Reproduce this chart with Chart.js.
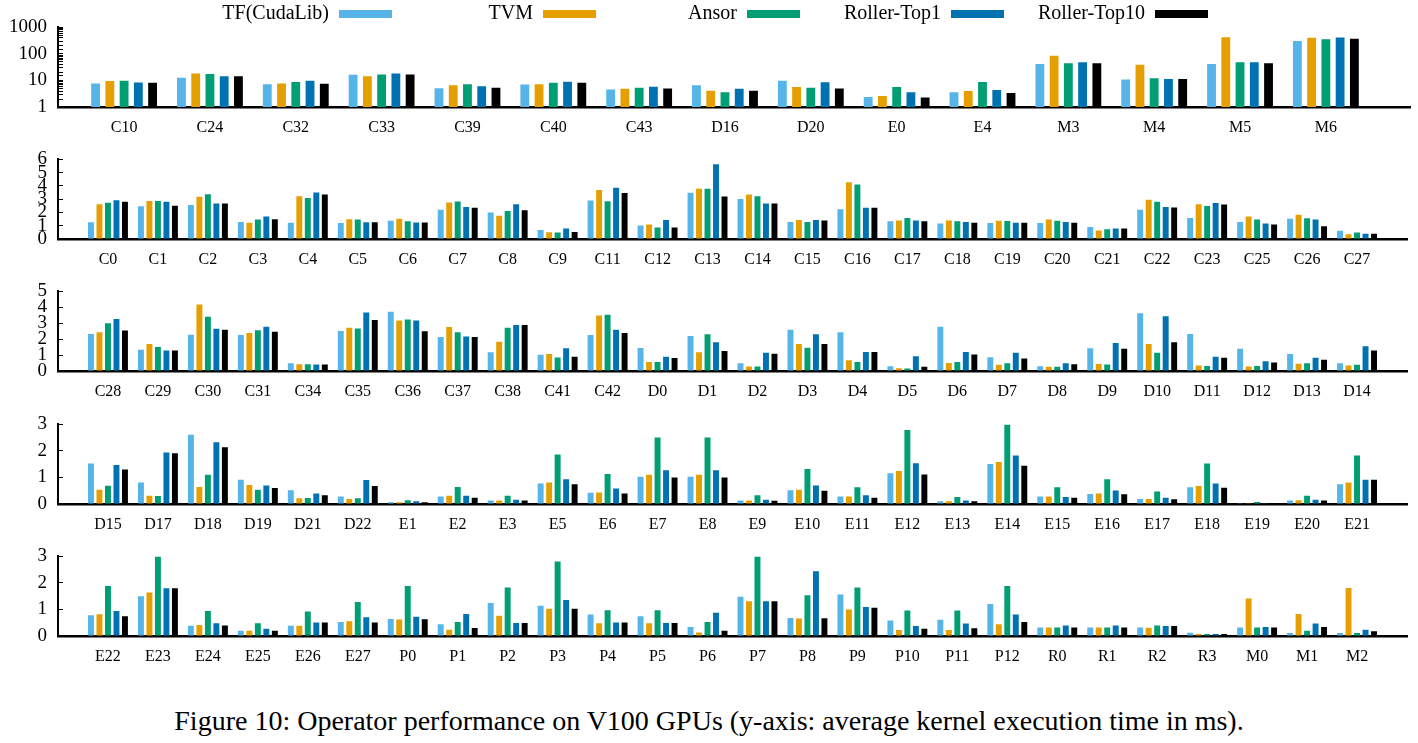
<!DOCTYPE html>
<html>
<head>
<meta charset="utf-8">
<title>Operator performance on V100 GPUs</title>
<script src="https://cdn.jsdelivr.net/npm/chart.js@4.4.1/dist/chart.umd.min.js"></script>
<style>
  body { margin: 0; background: #fff; width: 1418px; height: 743px; position: relative; overflow: hidden; }
  canvas { position: absolute; left: 0; }
  #caption { position: absolute; left: 0; top: 705px; width: 1418px; text-align: center; font: 28px "Liberation Serif", serif; color: #000; }
</style>
</head>
<body>
<canvas id="panel1" width="1418" height="139" style="top:0px"></canvas>
<canvas id="panel2" width="1418" height="139" style="top:132px"></canvas>
<canvas id="panel3" width="1418" height="139" style="top:264px"></canvas>
<canvas id="panel4" width="1418" height="139" style="top:397px"></canvas>
<canvas id="panel5" width="1418" height="139" style="top:529px"></canvas>
<div id="caption">Figure 10: Operator performance on V100 GPUs (y-axis: average kernel execution time in ms).</div>

<script>
// Series names and colours
const seriesNames = ['TF(CudaLib)', 'TVM', 'Ansor', 'Roller-Top1', 'Roller-Top10'];
const seriesColors = ['#56B4E9', '#E69F00', '#009E73', '#0072B2', '#000000'];

// Row 1 (log scale)
const cats1 = ['C10', 'C24', 'C32', 'C33', 'C39', 'C40', 'C43', 'D16', 'D20', 'E0', 'E4', 'M3', 'M4', 'M5', 'M6'];
const tf1 = [7.7, 12.6, 7.2, 16.3, 5.1, 7.0, 4.6, 6.6, 9.8, 2.4, 3.6, 42, 10.8, 42, 310];
const tvm1 = [9.5, 18.5, 7.7, 14.3, 6.6, 7.2, 4.9, 4.1, 5.7, 2.6, 4.0, 86, 39, 430, 407];
const ansor1 = [9.8, 17.5, 8.8, 16.7, 7.2, 8.2, 5.3, 3.6, 5.3, 5.7, 8.8, 45, 12, 49, 360];
const top1s1 = [8.4, 14.3, 9.8, 18.5, 6.0, 9.0, 5.8, 4.9, 8.6, 3.6, 4.4, 49, 11.4, 49, 420];
const top10s1 = [8.2, 14.3, 7.5, 16.7, 5.3, 8.2, 5.0, 4.1, 5.0, 2.3, 3.4, 45, 11.4, 45, 370];
const logTicks = [1, 10, 100, 1000];

// Row 2
const cats2 = ['C0', 'C1', 'C2', 'C3', 'C4', 'C5', 'C6', 'C7', 'C8', 'C9', 'C11', 'C12', 'C13',
  'C14', 'C15', 'C16', 'C17', 'C18', 'C19', 'C20', 'C21', 'C22', 'C23', 'C25', 'C26', 'C27'];
const tf2 = [1.27, 2.47, 2.56, 1.29, 1.22, 1.2, 1.38, 2.2, 2.0, 0.67, 2.91, 1.02, 3.49,
  3.02, 1.29, 2.24, 1.33, 1.16, 1.2, 1.2, 0.91, 2.2, 1.58, 1.29, 1.53, 0.62];
const tvm2 = [2.62, 2.87, 3.18, 1.22, 3.22, 1.49, 1.53, 2.76, 1.76, 0.51, 3.69, 1.09, 3.78,
  3.36, 1.44, 4.27, 1.4, 1.4, 1.38, 1.47, 0.64, 2.96, 2.62, 1.69, 1.82, 0.36];
const ansor2 = [2.73, 2.87, 3.38, 1.47, 3.09, 1.47, 1.33, 2.82, 2.11, 0.49, 2.84, 0.87, 3.78,
  3.22, 1.29, 4.11, 1.58, 1.33, 1.36, 1.38, 0.73, 2.8, 2.49, 1.47, 1.56, 0.49];
const top1s2 = [2.93, 2.8, 2.67, 1.69, 3.51, 1.27, 1.24, 2.42, 2.62, 0.8, 3.87, 1.44, 5.64,
  2.67, 1.44, 2.36, 1.4, 1.29, 1.22, 1.29, 0.8, 2.42, 2.71, 1.16, 1.47, 0.4];
const top10s2 = [2.8, 2.51, 2.67, 1.49, 3.36, 1.27, 1.24, 2.36, 2.16, 0.53, 3.47, 0.87, 3.2,
  2.67, 1.4, 2.36, 1.33, 1.22, 1.22, 1.22, 0.8, 2.38, 2.6, 1.09, 0.96, 0.4];

// Row 3
const cats3 = ['C28', 'C29', 'C30', 'C31', 'C34', 'C35', 'C36', 'C37', 'C38', 'C41', 'C42', 'D0', 'D1',
  'D2', 'D3', 'D4', 'D5', 'D6', 'D7', 'D8', 'D9', 'D10', 'D11', 'D12', 'D13', 'D14'];
const tf3 = [2.33, 1.33, 2.28, 2.26, 0.48, 2.52, 3.72, 2.13, 1.17, 1.02, 2.26, 1.44, 2.2,
  0.48, 2.59, 2.43, 0.3, 2.78, 0.87, 0.3, 1.43, 3.63, 2.33, 1.39, 1.06, 0.48];
const tvm3 = [2.44, 1.69, 4.17, 2.39, 0.43, 2.72, 3.17, 2.76, 1.83, 1.07, 3.48, 0.57, 1.17,
  0.28, 1.7, 0.67, 0.17, 0.5, 0.39, 0.26, 0.44, 1.7, 0.35, 0.28, 0.46, 0.35];
const ansor3 = [3.0, 1.5, 3.41, 2.56, 0.43, 2.67, 3.24, 2.44, 2.72, 0.85, 3.54, 0.57, 2.31,
  0.28, 1.46, 0.56, 0.15, 0.56, 0.48, 0.26, 0.41, 1.15, 0.31, 0.31, 0.48, 0.39];
const top1s3 = [3.26, 1.28, 2.65, 2.78, 0.41, 3.67, 3.17, 2.17, 2.89, 1.43, 2.59, 0.89, 1.8,
  1.15, 2.31, 1.2, 0.93, 1.19, 1.15, 0.48, 1.76, 3.44, 0.89, 0.61, 0.83, 1.56];
const top10s3 = [2.54, 1.28, 2.59, 2.46, 0.41, 3.2, 2.5, 2.13, 2.89, 0.89, 2.39, 0.81, 1.26,
  1.09, 1.7, 1.2, 0.26, 1.04, 0.78, 0.43, 1.39, 1.81, 0.83, 0.54, 0.7, 1.28];

// Row 4
const cats4 = ['D15', 'D17', 'D18', 'D19', 'D21', 'D22', 'E1', 'E2', 'E3', 'E5', 'E6', 'E7', 'E8',
  'E9', 'E10', 'E11', 'E12', 'E13', 'E14', 'E15', 'E16', 'E17', 'E18', 'E19', 'E20', 'E21'];
const tf4 = [1.53, 0.81, 2.61, 0.91, 0.52, 0.28, 0.07, 0.28, 0.13, 0.77, 0.42, 1.03, 1.03,
  0.13, 0.52, 0.28, 1.16, 0.1, 1.51, 0.28, 0.38, 0.19, 0.63, 0.03, 0.13, 0.74];
const tvm4 = [0.54, 0.31, 0.64, 0.72, 0.22, 0.19, 0.07, 0.31, 0.13, 0.81, 0.43, 1.1, 1.1,
  0.13, 0.54, 0.28, 1.24, 0.1, 1.58, 0.28, 0.4, 0.19, 0.68, 0.03, 0.14, 0.81];
const ansor4 = [0.69, 0.3, 1.1, 0.54, 0.23, 0.22, 0.14, 0.64, 0.31, 1.87, 1.13, 2.51, 2.51,
  0.33, 1.32, 0.63, 2.79, 0.26, 3.0, 0.63, 0.93, 0.47, 1.53, 0.08, 0.31, 1.83];
const top1s4 = [1.47, 1.94, 2.33, 0.7, 0.4, 0.9, 0.1, 0.31, 0.16, 0.93, 0.58, 1.27, 1.27,
  0.16, 0.7, 0.33, 1.54, 0.13, 1.83, 0.26, 0.51, 0.24, 0.77, 0.03, 0.16, 0.91];
const top10s4 = [1.3, 1.91, 2.14, 0.6, 0.33, 0.68, 0.07, 0.24, 0.13, 0.74, 0.4, 1.0, 1.0,
  0.12, 0.5, 0.24, 1.11, 0.1, 1.44, 0.24, 0.37, 0.18, 0.61, 0.03, 0.13, 0.91];

// Row 5
const cats5 = ['E22', 'E23', 'E24', 'E25', 'E26', 'E27', 'P0', 'P1', 'P2', 'P3', 'P4', 'P5', 'P6',
  'P7', 'P8', 'P9', 'P10', 'P11', 'P12', 'R0', 'R1', 'R2', 'R3', 'M0', 'M1', 'M2'];
const tf5 = [0.78, 1.5, 0.39, 0.2, 0.39, 0.53, 0.64, 0.44, 1.24, 1.14, 0.81, 0.74, 0.34,
  1.48, 0.68, 1.56, 0.58, 0.61, 1.21, 0.32, 0.32, 0.32, 0.12, 0.32, 0.11, 0.11];
const tvm5 = [0.82, 1.64, 0.41, 0.2, 0.39, 0.56, 0.62, 0.24, 0.76, 1.03, 0.48, 0.48, 0.13,
  1.31, 0.66, 1.0, 0.23, 0.23, 0.44, 0.32, 0.32, 0.31, 0.08, 1.41, 0.83, 1.81];
const ansor5 = [1.88, 3.0, 0.94, 0.48, 0.92, 1.28, 1.88, 0.53, 1.83, 2.81, 0.97, 0.97, 0.53,
  3.0, 1.54, 1.83, 0.96, 0.96, 1.88, 0.32, 0.32, 0.4, 0.08, 0.32, 0.2, 0.11];
const top1s5 = [0.94, 1.8, 0.48, 0.27, 0.51, 0.71, 0.73, 0.83, 0.49, 1.36, 0.51, 0.49, 0.88,
  1.31, 2.44, 1.09, 0.38, 0.47, 0.81, 0.4, 0.4, 0.38, 0.08, 0.34, 0.47, 0.24];
const top10s5 = [0.74, 1.8, 0.4, 0.2, 0.51, 0.51, 0.63, 0.3, 0.49, 1.03, 0.51, 0.49, 0.2,
  1.31, 0.67, 1.06, 0.27, 0.29, 0.53, 0.32, 0.32, 0.38, 0.08, 0.32, 0.34, 0.18];

const serif = '"Liberation Serif", "Times New Roman", serif';

// Key row drawn across the top of the first panel (text left of swatch)
const keyRowPlugin = {
  id: 'keyRow',
  afterDraw(chart) {
    const ctx = chart.ctx;
    ctx.save();
    ctx.font = '20px ' + serif;
    ctx.textAlign = 'right';
    ctx.textBaseline = 'middle';
    chart.data.datasets.forEach((ds, i) => {
      const x = 339 + i * 204;
      ctx.fillStyle = '#000';
      ctx.fillText(ds.label, x - 10, 14);
      ctx.fillStyle = ds.backgroundColor;
      ctx.fillRect(x, 10, 53, 8);
    });
    ctx.restore();
  }
};

function makePanel(id, cats, series, yScale, xMin, xMax, catPct, barPct, plugins) {
  const datasets = series.map((vals, k) => ({
    label: seriesNames[k],
    data: vals.map((v, i) => ({ x: i, y: v })),
    backgroundColor: seriesColors[k],
    borderWidth: 0,
    categoryPercentage: catPct,
    barPercentage: barPct
  }));

  return new Chart(document.getElementById(id), {
    type: 'bar',
    data: { datasets },
    plugins: plugins || [],
    options: {
      responsive: false,
      animation: false,
      layout: { padding: { top: 17, right: 8, left: 0, bottom: 0 } },
      plugins: {
        legend: { display: false },
        tooltip: { enabled: false }
      },
      scales: {
        x: {
          type: 'linear',
          offset: false,
          min: xMin,
          max: xMax,
          afterFit: (s) => { s.height = 32; },
          grid: { display: false, drawTicks: false, offset: false },
          border: { color: '#000', width: 2.5 },
          ticks: {
            stepSize: 1,
            includeBounds: false,
            autoSkip: false,
            maxRotation: 0,
            minRotation: 0,
            padding: 11,
            color: '#000',
            font: { family: serif, size: 16 },
            callback: (v) => cats[v] ?? ''
          }
        },
        y: Object.assign({
          afterFit: (s) => { s.width = 58; },
          grid: { drawOnChartArea: false, color: '#000', tickLength: -5 },
          border: { color: '#000', width: 2 },
        }, yScale)
      }
    }
  });
}

function yTicks(extra) {
  return Object.assign({
    autoSkip: false,
    padding: 16,
    color: '#000',
    font: { family: serif, size: 19 }
  }, extra);
}

makePanel('panel1', cats1, [tf1, tvm1, ansor1, top1s1, top10s1], {
  type: 'logarithmic', min: 1, max: 1000,
  ticks: yTicks({ callback: (v) => logTicks.includes(v) ? String(v) : '' })
}, -0.77, 14.98, 0.83, 0.62, [keyRowPlugin]);

makePanel('panel2', cats2, [tf2, tvm2, ansor2, top1s2, top10s2], {
  type: 'linear', min: 0, max: 6, ticks: yTicks({ stepSize: 1 })
}, -1, 26, 0.85, 0.7);

makePanel('panel3', cats3, [tf3, tvm3, ansor3, top1s3, top10s3], {
  type: 'linear', min: 0, max: 5, ticks: yTicks({ stepSize: 1 })
}, -1, 26, 0.85, 0.7);

makePanel('panel4', cats4, [tf4, tvm4, ansor4, top1s4, top10s4], {
  type: 'linear', min: 0, max: 3, ticks: yTicks({ stepSize: 1 })
}, -1, 26, 0.85, 0.7);

makePanel('panel5', cats5, [tf5, tvm5, ansor5, top1s5, top10s5], {
  type: 'linear', min: 0, max: 3, ticks: yTicks({ stepSize: 1 })
}, -1, 26, 0.85, 0.7);
</script>
</body>
</html>
